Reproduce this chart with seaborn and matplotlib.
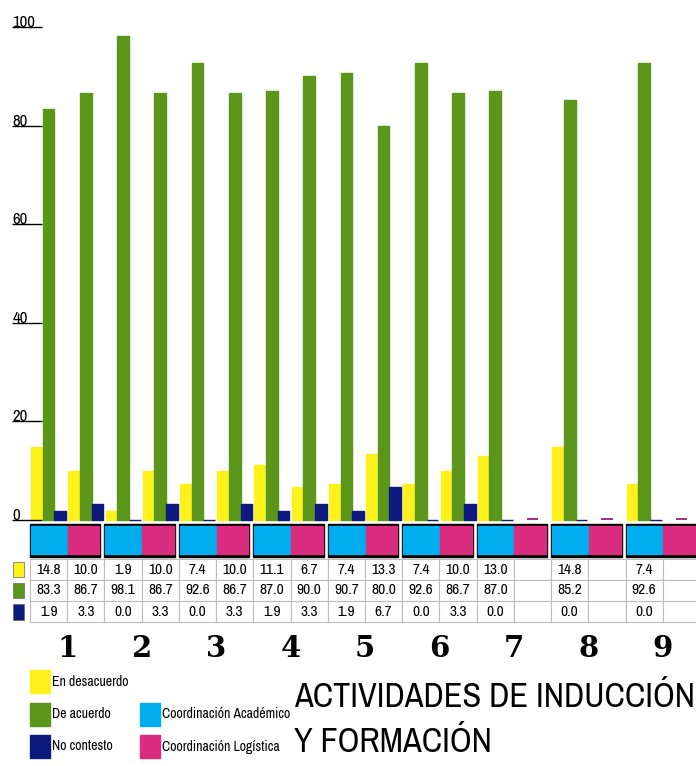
import numpy as np
import pandas as pd
import seaborn as sns
import matplotlib.pyplot as plt
import matplotlib.transforms as mtransforms
from matplotlib import font_manager as fm
from matplotlib.patches import Rectangle
from matplotlib.textpath import TextPath

# Datos
actividades = ['1', '2', '3', '4', '5', '6', '7', '8', '9']
coordinaciones = ['Coordinación Académico', 'Coordinación Logística']
respuestas = ['En desacuerdo', 'De acuerdo', 'No contesto']

en_desacuerdo = [14.8, 10.0, 1.9, 10.0, 7.4, 10.0, 11.1, 6.7, 7.4, 13.3,
                 7.4, 10.0, 13.0, np.nan, 14.8, np.nan, 7.4, np.nan]
de_acuerdo = [83.3, 86.7, 98.1, 86.7, 92.6, 86.7, 87.0, 90.0, 90.7, 80.0,
              92.6, 86.7, 87.0, np.nan, 85.2, np.nan, 92.6, np.nan]
no_contesto = [1.9, 3.3, 0.0, 3.3, 0.0, 3.3, 1.9, 3.3, 1.9, 6.7,
               0.0, 3.3, 0.0, np.nan, 0.0, np.nan, 0.0, np.nan]
y_ticks = [0, 20, 40, 60, 80, 100]
titulo = ['ACTIVIDADES DE INDUCCIÓN', 'Y FORMACIÓN']

colores_resp = ['#fff21c', '#5b961a', '#0b1a7c']
colores_coord = ['#00aeef', '#da2d80']
color_sin_dato = '#a8308f'

# Fuentes: la sans más estrecha disponible
def rango(f):
    n, s = f.name, str(f.stretch)
    if 'Narrow' in n:
        return 0
    if s == 'condensed' and ('Noto' in n or 'Roboto' in n or 'Liberation' in n):
        return 1
    if s == 'condensed' or 'Condensed' in n:
        return 2
    if s == 'semi-condensed':
        return 3
    return 9

candidatas = [f for f in fm.fontManager.ttflist
              if f.style == 'normal' and f.weight in (400, 'normal', 'regular')
              and 'Mono' not in f.name and 'Serif' not in f.name
              and rango(f) < 9]
candidatas.sort(key=rango)
if candidatas:
    base_fp = fm.FontProperties(fname=candidatas[0].fname)
else:
    base_fp = fm.FontProperties(family='Liberation Sans')
serif = 'DejaVu Serif'

def fp(size):
    p = base_fp.copy()
    p.set_size(size)
    return p

# Tabla larga
slots = [f'{a} {c}' for a in actividades for c in coordinaciones]
series = [en_desacuerdo, de_acuerdo, no_contesto]
df = pd.DataFrame({
    'slot': np.tile(slots, 3),
    'respuesta': np.repeat(respuestas, len(slots)),
    'valor': np.concatenate(series),
}).dropna()

W, H = 696, 766
fig = plt.figure(figsize=(W / 100, H / 100), dpi=100)
renderer = fig.canvas.get_renderer()

def talla(texto, ancho_px):
    # tamaño para que el texto mida ancho_px de ancho
    t = fig.text(0, 0, texto, fontproperties=fp(10))
    w = t.get_window_extent(renderer).width
    t.remove()
    return 10 * ancho_px / w

def alto(texto, alto_px):
    # tamaño para que la tinta del texto mida alto_px de alto
    h = TextPath((0, 0), texto, prop=fp(10)).get_extents().height * 100 / 72
    return 10 * alto_px / h

sz_tick = min(alto('100', 12), talla('100', 23))
sz_tabla = min(alto('148', 11), talla('14.8', 26))
sz_ley = min(alto('E', 10), talla(coordinaciones[0], 128))
sz_tit = talla(titulo[0], 400)

ax = fig.add_axes([30 / W, 1 - 520 / H, 670 / W, 493 / H])

sns.barplot(data=df, x='slot', y='valor', hue='respuesta', order=slots,
            hue_order=respuestas, palette=colores_resp, saturation=1,
            width=0.94, errorbar=None, legend=False, ax=ax)
for p in ax.patches:
    p.set_edgecolor(p.get_facecolor())
    p.set_linewidth(1.0)
    p.set_clip_on(False)

# marca de "sin dato" en Logística
idx_sin = [i for i, v in enumerate(de_acuerdo) if np.isnan(v)]
ax.bar(idx_sin, [0.45] * len(idx_sin), width=0.94 / 3, color=color_sin_dato)

ax.set_xlim(-0.5, len(slots) - 0.5)
ax.set_ylim(0, 100)
ax.set_xticks([])
ax.set_xlabel('')
ax.set_ylabel('')
for s in ax.spines.values():
    s.set_visible(False)

# Eje Y con etiquetas subrayadas
ax.set_yticks(y_ticks)
ax.set_yticklabels([str(t) for t in y_ticks])
ax.tick_params(axis='y', length=0, pad=12.5)
for lab in ax.get_yticklabels():
    lab.set_ha('left')
    lab.set_va('baseline')
    lab.set_fontproperties(fp(sz_tick))
ty = mtransforms.blended_transform_factory(ax.transAxes, ax.transData)
ax.hlines(y_ticks, -18 / 670, 12 / 670, color='black', lw=1.0,
          transform=ty, clip_on=False)

# Fila de cuadros de coordinación
trans = mtransforms.blended_transform_factory(ax.transData, ax.transAxes)
dx = len(slots) / 670
def ay(p):
    return (520 - p) / 493

for g in range(len(actividades)):
    x0 = 2 * g - 0.5
    x1 = 2 * g + 1.5 - 4 * dx
    mid = 2 * g + 0.5
    ax.add_patch(Rectangle((x0, ay(557)), x1 - x0, ay(524) - ay(557),
                           color='black', transform=trans, clip_on=False))
    ax.add_patch(Rectangle((x0 + dx, ay(554)), mid - x0 - 1.5 * dx, ay(526) - ay(554),
                           color=colores_coord[0], transform=trans, clip_on=False))
    ax.add_patch(Rectangle((mid + 0.5 * dx, ay(554)), x1 - mid - 1.5 * dx, ay(526) - ay(554),
                           color=colores_coord[1], transform=trans, clip_on=False))
    ax.text(mid, ay(657), actividades[g], transform=trans, ha='center',
            va='baseline', fontsize=21, fontweight='bold', fontfamily=serif)

# Tabla de valores
filas = [['' if np.isnan(v) else f'{v:.1f}' for v in s] for s in series]
tabla = ax.table(cellText=filas, cellLoc='center',
                 bbox=[0, ay(622), 1, ay(559) - ay(622)])
tabla.auto_set_font_size(False)
for cell in tabla.get_celld().values():
    cell.set_edgecolor('#bcbcbc')
    cell.set_linewidth(0.8)
    cell.get_text().set_fontproperties(fp(sz_tabla))

# Cuadros de color a la izquierda de la tabla
def fx(p):
    return p / W
def fy(p):
    return 1 - p / H

for col, (t, b) in zip(colores_resp, [(562, 577), (583, 598), (604, 620)]):
    fig.add_artist(Rectangle((fx(13), fy(b)), fx(24) - fx(13), fy(t) - fy(b),
                             facecolor=col, edgecolor='#666666', lw=0.5,
                             transform=fig.transFigure))

# Leyenda
leyenda = [(respuestas[i], colores_resp[i], 30, y) for i, y in
           enumerate([670, 703, 735])]
leyenda += [(coordinaciones[i], colores_coord[i], 140, y) for i, y in
            enumerate([703, 735])]
for texto, col, x, y in leyenda:
    fig.add_artist(Rectangle((fx(x), fy(y + 23)), fx(20), fy(0) - fy(23),
                             color=col, transform=fig.transFigure))
    fig.text(fx(x + 22), fy(y + 11.5), texto, ha='left', va='center',
             fontproperties=fp(sz_ley))

# Título
for linea, base in zip(titulo, [707, 752]):
    fig.text(fx(294), fy(base), linea, ha='left', va='baseline',
             fontproperties=fp(sz_tit))

fig.savefig('out.png', dpi=100)
